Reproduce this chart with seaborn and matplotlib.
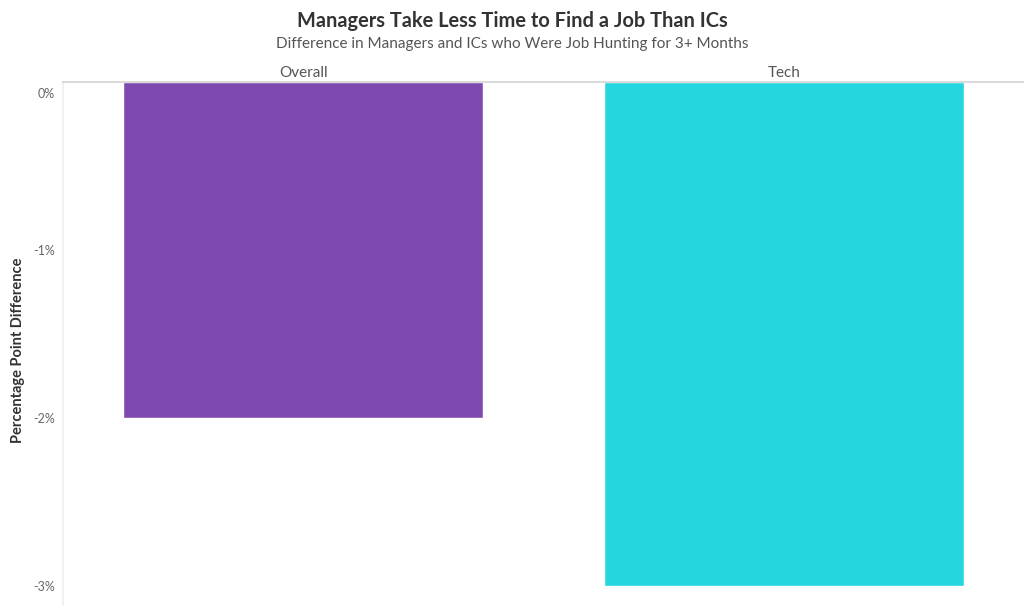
import matplotlib.pyplot as plt
import matplotlib.ticker as mticker
import matplotlib.transforms as mtransforms
import pandas as pd
import seaborn as sns

# data
segments = ['Overall', 'Tech']
diff_pct = [-2.0, -3.0]
bar_colors = ['#7f4ab0', '#24d6de']

df = pd.DataFrame({'segment': segments, 'diff': diff_pct})

sns.set_theme(style='white')
plt.rcParams['font.family'] = ['Lato', 'DejaVu Sans']

fig = plt.figure(figsize=(10.24, 6.12), dpi=100)
ax = fig.add_axes([63 / 1024, 7 / 612, 1 - 63 / 1024, 523 / 612])

sns.barplot(data=df, x='segment', y='diff', hue='segment', palette=bar_colors,
            width=0.75, saturation=1, legend=False, ax=ax)

ax.set_xlim(-0.5, 1.5)
ax.set_ylim(-3.113, 0)
ax.set_yticks([0, -1, -2, -3])
ax.yaxis.set_major_formatter(mticker.FuncFormatter(lambda v, p: f'{v:.0f}%'))
ax.tick_params(axis='y', labelsize=9, colors='#666666', length=0, pad=6)
ax.set_xticks([])
ax.set_xlabel('')
ax.set_ylabel('')

# Tableau pushes the top label down inside the pane
fig.canvas.draw()
shift = mtransforms.ScaledTranslation(0, -8 / 72, fig.dpi_scale_trans)
for tick in ax.yaxis.get_major_ticks():
    if tick.label1.get_text() == '0%':
        tick.label1.set_transform(tick.label1.get_transform() + shift)

for s in ['right', 'bottom']:
    ax.spines[s].set_visible(False)
ax.spines['top'].set_color('#d4d4d4')
ax.spines['top'].set_linewidth(1.2)
ax.spines['left'].set_color('#f0f0f0')

# column headers above the panes
for i, name in enumerate(segments):
    ax.text(i, 1.004, name, transform=ax.get_xaxis_transform(), ha='center',
            va='bottom', fontsize=11, color='#555555')

fig.text(18 / 1024, 1 - 350 / 612, 'Percentage Point Difference', rotation=90,
         ha='center', va='center', fontsize=10.5, fontweight='bold', color='#333333')

fig.text(0.5, 1 - 21 / 612, 'Managers Take Less Time to Find a Job Than ICs',
         ha='center', va='center', fontsize=14.4, fontweight='bold', color='#333333')
fig.text(0.5, 1 - 44 / 612, 'Difference in Managers and ICs who Were Job Hunting for 3+ Months',
         ha='center', va='center', fontsize=11, color='#555555')

fig.savefig('out.png', dpi=100)
